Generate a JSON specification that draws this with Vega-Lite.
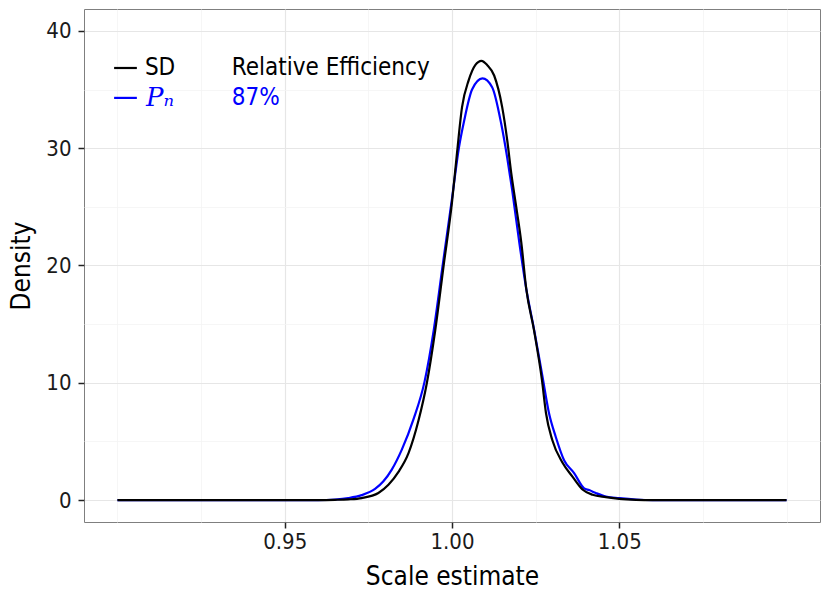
{
  "$schema": "https://vega.github.io/schema/vega-lite/v6.json",
  "width": 736,
  "height": 513,
  "autosize": "none",
  "padding": {"left": 84, "top": 9, "right": 1, "bottom": 69},
  "background": "white",
  "config": {
    "view": {"stroke": "#7f7f7f", "strokeWidth": 1},
    "font": "DejaVu Sans Condensed, DejaVu Sans",
    "axis": {
      "domain": false,
      "tickColor": "#222222",
      "tickSize": 6,
      "tickWidth": 1.5,
      "labelFont": "DejaVu Sans Condensed, DejaVu Sans",
      "labelFontSize": 22,
      "labelColor": "#1a1a1a",
      "titleFont": "DejaVu Sans Condensed, DejaVu Sans",
      "titleFontSize": 26,
      "titleFontWeight": "normal",
      "titleColor": "#000000"
    }
  },
  "datasets": {
    "sd": [
      {"x": 0.9, "d": 0}, {"x": 0.96, "d": 0}, {"x": 0.965, "d": 0.02}, {"x": 0.969, "d": 0.06},
      {"x": 0.973, "d": 0.17}, {"x": 0.978, "d": 0.6}, {"x": 0.981, "d": 1.3}, {"x": 0.984, "d": 2.4},
      {"x": 0.987, "d": 4.0}, {"x": 0.99, "d": 6.8}, {"x": 0.9925, "d": 10.0}, {"x": 0.995, "d": 14.5},
      {"x": 0.9975, "d": 20.0}, {"x": 1.0, "d": 25.4}, {"x": 1.0015, "d": 29.6}, {"x": 1.003, "d": 33.5},
      {"x": 1.005, "d": 35.8}, {"x": 1.007, "d": 37.1}, {"x": 1.0088, "d": 37.45}, {"x": 1.0105, "d": 37.1},
      {"x": 1.0126, "d": 36.2}, {"x": 1.015, "d": 33.5}, {"x": 1.0165, "d": 30.7}, {"x": 1.0177, "d": 27.9},
      {"x": 1.0192, "d": 25.0}, {"x": 1.0207, "d": 22.0}, {"x": 1.0222, "d": 18.0}, {"x": 1.0245, "d": 14.5},
      {"x": 1.0269, "d": 10.2}, {"x": 1.0281, "d": 7.4}, {"x": 1.03, "d": 5.1}, {"x": 1.033, "d": 3.2},
      {"x": 1.036, "d": 2.0}, {"x": 1.039, "d": 0.9}, {"x": 1.042, "d": 0.45}, {"x": 1.046, "d": 0.25},
      {"x": 1.05, "d": 0.1}, {"x": 1.055, "d": 0.02}, {"x": 1.06, "d": 0}, {"x": 1.1, "d": 0}
    ],
    "pn": [
      {"x": 0.9, "d": 0}, {"x": 0.96, "d": 0}, {"x": 0.965, "d": 0.05}, {"x": 0.969, "d": 0.17},
      {"x": 0.973, "d": 0.42}, {"x": 0.977, "d": 0.95}, {"x": 0.9795, "d": 1.6}, {"x": 0.982, "d": 2.6},
      {"x": 0.985, "d": 4.3}, {"x": 0.9885, "d": 6.9}, {"x": 0.9918, "d": 10.1}, {"x": 0.9946, "d": 14.6},
      {"x": 0.9973, "d": 20.2}, {"x": 1.0, "d": 25.7}, {"x": 1.0021, "d": 30.1}, {"x": 1.0036, "d": 32.3},
      {"x": 1.006, "d": 35.0}, {"x": 1.0091, "d": 35.95}, {"x": 1.012, "d": 35.2}, {"x": 1.0147, "d": 32.1},
      {"x": 1.0165, "d": 29.2}, {"x": 1.018, "d": 26.4}, {"x": 1.02, "d": 22.2}, {"x": 1.0222, "d": 18.0},
      {"x": 1.0245, "d": 14.6}, {"x": 1.027, "d": 10.6}, {"x": 1.029, "d": 7.4}, {"x": 1.031, "d": 5.4},
      {"x": 1.0335, "d": 3.4}, {"x": 1.0365, "d": 2.3}, {"x": 1.0395, "d": 1.0}, {"x": 1.041, "d": 0.85},
      {"x": 1.043, "d": 0.6}, {"x": 1.046, "d": 0.3}, {"x": 1.05, "d": 0.17}, {"x": 1.055, "d": 0.05},
      {"x": 1.06, "d": 0}, {"x": 1.1, "d": 0}
    ],
    "key": [
      {"x1": 0.899, "x2": 0.9058, "y": 36.84, "series": "SD"},
      {"x1": 0.899, "x2": 0.9058, "y": 34.29, "series": "Pn"}
    ],
    "keytext": [
      {"x": 0.9082, "y": 36.84, "label": "SD", "series": "SD"},
      {"x": 0.9342, "y": 36.84, "label": "Relative Efficiency", "series": "SD"},
      {"x": 0.9342, "y": 34.29, "label": "87%", "series": "Pn"}
    ],
    "keymath": [
      {"x": 0.9085, "y": 34.29, "label": "Pₙ", "series": "Pn"}
    ]
  },
  "layer": [
    {
      "data": {"name": "pn"},
      "mark": {"type": "line", "interpolate": "monotone", "strokeWidth": 2.2, "color": "#0000ff", "clip": true},
      "encoding": {
        "x": {
          "field": "x", "type": "quantitative",
          "scale": {"domain": [0.89, 1.11], "nice": false, "zero": false},
          "axis": {
            "title": "Scale estimate",
            "values": [0.9, 0.925, 0.95, 0.975, 1.0, 1.025, 1.05, 1.075, 1.1],
            "labelExpr": "(abs(datum.value - 0.95) < 0.001 || abs(datum.value - 1) < 0.001 || abs(datum.value - 1.05) < 0.001) ? format(datum.value, '.2f') : ''",
            "labelPadding": 3,
            "titlePadding": 11,
            "grid": true,
            "gridColor": {"condition": {"test": "abs(datum.value - 0.95) < 0.001 || abs(datum.value - 1) < 0.001 || abs(datum.value - 1.05) < 0.001", "value": "#e6e6e6"}, "value": "#f4f4f4"},
            "gridWidth": {"condition": {"test": "abs(datum.value - 0.95) < 0.001 || abs(datum.value - 1) < 0.001 || abs(datum.value - 1.05) < 0.001", "value": 1.2}, "value": 0.8},
            "tickOpacity": {"condition": {"test": "abs(datum.value - 0.95) < 0.001 || abs(datum.value - 1) < 0.001 || abs(datum.value - 1.05) < 0.001", "value": 1}, "value": 0}
          }
        },
        "y": {
          "field": "d", "type": "quantitative",
          "scale": {"domain": [-1.87, 41.87], "nice": false, "zero": false},
          "axis": {
            "title": "Density",
            "values": [0, 5, 10, 15, 20, 25, 30, 35, 40],
            "labelExpr": "datum.value % 10 == 0 ? datum.value : ''",
            "labelPadding": 7,
            "titlePadding": 11,
            "grid": true,
            "gridColor": {"condition": {"test": "datum.value % 10 == 0", "value": "#e6e6e6"}, "value": "#f4f4f4"},
            "gridWidth": {"condition": {"test": "datum.value % 10 == 0", "value": 1.2}, "value": 0.8},
            "tickOpacity": {"condition": {"test": "datum.value % 10 == 0", "value": 1}, "value": 0}
          }
        }
      }
    },
    {
      "data": {"name": "sd"},
      "mark": {"type": "line", "interpolate": "monotone", "strokeWidth": 2.2, "color": "#000000", "clip": true},
      "encoding": {
        "x": {"field": "x", "type": "quantitative"},
        "y": {"field": "d", "type": "quantitative"}
      }
    },
    {
      "data": {"name": "key"},
      "mark": {"type": "rule", "strokeWidth": 2.2},
      "encoding": {
        "x": {"field": "x1", "type": "quantitative"},
        "x2": {"field": "x2"},
        "y": {"field": "y", "type": "quantitative"},
        "color": {"field": "series", "type": "nominal", "scale": {"domain": ["SD", "Pn"], "range": ["#000000", "#0000ff"]}, "legend": null}
      }
    },
    {
      "data": {"name": "keytext"},
      "mark": {"type": "text", "align": "left", "baseline": "middle", "fontSize": 24, "font": "DejaVu Sans Condensed, DejaVu Sans"},
      "encoding": {
        "x": {"field": "x", "type": "quantitative"},
        "y": {"field": "y", "type": "quantitative"},
        "text": {"field": "label"},
        "color": {"field": "series", "type": "nominal", "scale": {"domain": ["SD", "Pn"], "range": ["#000000", "#0000ff"]}, "legend": null}
      }
    },
    {
      "data": {"name": "keymath"},
      "mark": {"type": "text", "align": "left", "baseline": "middle", "fontSize": 26, "fontStyle": "italic", "font": "DejaVu Serif"},
      "encoding": {
        "x": {"field": "x", "type": "quantitative"},
        "y": {"field": "y", "type": "quantitative"},
        "text": {"field": "label"},
        "color": {"field": "series", "type": "nominal", "scale": {"domain": ["SD", "Pn"], "range": ["#000000", "#0000ff"]}, "legend": null}
      }
    }
  ]
}
